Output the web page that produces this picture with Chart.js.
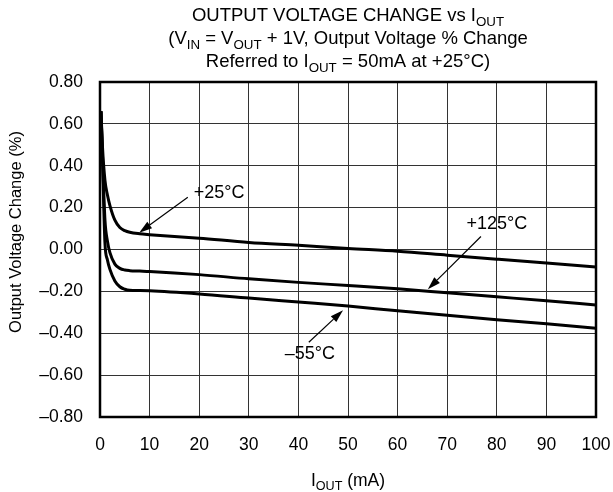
<!DOCTYPE html>
<html>
<head>
<meta charset="utf-8">
<script src="https://cdn.jsdelivr.net/npm/chart.js@4.4.0/dist/chart.umd.min.js"></script>
<style>
    html, body { margin: 0; padding: 0; background: #fff; }
    canvas { display: block; }
</style>
</head>
<body>
<canvas id="voltageChart" width="613" height="492"></canvas>
<script>
const currentMa = [0.2, 0.5, 1, 1.5, 2, 3, 4, 5, 6, 8, 10, 20, 30, 40, 50, 60, 70, 80, 90, 100];

// Output voltage % change for each temperature
const changeAt25C = [0.66, 0.49, 0.33, 0.26, 0.21, 0.14, 0.105, 0.09, 0.082, 0.075, 0.071, 0.054, 0.034, 0.02, 0.005, -0.008, -0.027, -0.046, -0.065, -0.084];
const changeAt125C = [0.66, 0.45, 0.14, 0.04, -0.015, -0.07, -0.09, -0.098, -0.101, -0.103, -0.105, -0.12, -0.14, -0.157, -0.172, -0.188, -0.207, -0.226, -0.245, -0.265];
const changeAtMinus55C = [0.66, 0.43, 0.03, -0.05, -0.095, -0.15, -0.178, -0.19, -0.195, -0.196, -0.197, -0.212, -0.232, -0.251, -0.27, -0.293, -0.314, -0.335, -0.355, -0.376];

// Tick labels
const xTicks = [0, 10, 20, 30, 40, 50, 60, 70, 80, 90, 100];
const yTicks = [-0.8, -0.6, -0.4, -0.2, 0, 0.2, 0.4, 0.6, 0.8];

// Text (_{...} marks a subscript)
const titleLines = [
    'OUTPUT VOLTAGE CHANGE vs I_{OUT}',
    '(V_{IN} = V_{OUT} + 1V, Output Voltage % Change',
    'Referred to I_{OUT} = 50mA at +25°C)'
];
const xTitle = 'I_{OUT} (mA)';
const yTitle = 'Output Voltage Change (%)';

// Curve labels with arrows, in data units
const curveLabels = [
    { text: '+25°C', x: 24, y: 0.27, fromX: 17.7, fromY: 0.25, toX: 7.9, toY: 0.08 },
    { text: '+125°C', x: 80, y: 0.12, fromX: 76.8, fromY: 0.062, toX: 66.1, toY: -0.19 },
    { text: '–55°C', x: 42.3, y: -0.5, fromX: 42.1, fromY: -0.443, toX: 49, toY: -0.29 }
];

const FONT = '"Liberation Sans", Arial, Helvetica, sans-serif';

function toPoints(ys) {
    return currentMa.map((x, i) => ({ x: x, y: ys[i] }));
}

function formatNumber(v) {
    return v.toFixed(2).replace('-', '–');
}

// Draw a string that may contain _{sub} parts, centred at cx
function drawRich(ctx, str, cx, baseline, size) {
    const parts = str.split(/(_\{[^}]*\})/).filter(p => p.length);
    const subSize = size * 0.72;
    const items = parts.map(p => {
        const sub = p.startsWith('_{');
        const t = sub ? p.slice(2, -1) : p;
        ctx.font = (sub ? subSize : size) + 'px ' + FONT;
        return { t: t, sub: sub, w: ctx.measureText(t).width };
    });
    const total = items.reduce((s, it) => s + it.w, 0);
    let x = cx - total / 2;
    ctx.textAlign = 'left';
    ctx.textBaseline = 'alphabetic';
    items.forEach(it => {
        ctx.font = (it.sub ? subSize : size) + 'px ' + FONT;
        ctx.fillText(it.t, x, baseline + (it.sub ? size * 0.25 : 0));
        x += it.w;
    });
}

const decorations = {
    id: 'decorations',
    beforeDatasetsDraw(chart) {
        // thick frame round the plot
        const a = chart.chartArea;
        const ctx = chart.ctx;
        ctx.save();
        ctx.strokeStyle = '#000';
        ctx.lineWidth = 2.5;
        ctx.strokeRect(a.left, a.top, a.right - a.left, a.bottom - a.top);
        ctx.restore();
    },
    afterDraw(chart) {
        const ctx = chart.ctx;
        const a = chart.chartArea;
        const xs = chart.scales.x;
        const ys = chart.scales.y;
        const cx = (a.left + a.right) / 2;
        ctx.save();
        ctx.fillStyle = '#000';

        // title
        titleLines.forEach((line, i) => {
            drawRich(ctx, line, cx, 21 + i * 23, 18.5);
        });

        // axis titles
        drawRich(ctx, xTitle, cx, 486, 17.5);
        ctx.save();
        ctx.translate(21, 232);
        ctx.rotate(-Math.PI / 2);
        drawRich(ctx, yTitle, 0, 0, 16.5);
        ctx.restore();

        // curve labels and arrows
        curveLabels.forEach(l => {
            ctx.font = '18px ' + FONT;
            ctx.textAlign = 'center';
            ctx.textBaseline = 'middle';
            ctx.fillText(l.text, xs.getPixelForValue(l.x), ys.getPixelForValue(l.y));

            const x1 = xs.getPixelForValue(l.fromX), y1 = ys.getPixelForValue(l.fromY);
            const x2 = xs.getPixelForValue(l.toX), y2 = ys.getPixelForValue(l.toY);
            const ang = Math.atan2(y2 - y1, x2 - x1);
            const headLen = 13, headW = 4;
            const bx = x2 - headLen * Math.cos(ang), by = y2 - headLen * Math.sin(ang);
            ctx.strokeStyle = '#000';
            ctx.lineWidth = 1.2;
            ctx.beginPath();
            ctx.moveTo(x1, y1);
            ctx.lineTo(bx, by);
            ctx.stroke();
            ctx.beginPath();
            ctx.moveTo(x2, y2);
            ctx.lineTo(bx + headW * Math.sin(ang), by - headW * Math.cos(ang));
            ctx.lineTo(bx - headW * Math.sin(ang), by + headW * Math.cos(ang));
            ctx.closePath();
            ctx.fill();
        });
        ctx.restore();
    }
};

const curveStyle = {
    borderColor: '#000',
    borderWidth: 3,
    pointRadius: 0,
    fill: false,
    cubicInterpolationMode: 'monotone'
};

new Chart(document.getElementById('voltageChart').getContext('2d'), {
    type: 'line',
    data: {
        datasets: [
            Object.assign({ label: '+25°C', data: toPoints(changeAt25C) }, curveStyle),
            Object.assign({ label: '+125°C', data: toPoints(changeAt125C) }, curveStyle),
            Object.assign({ label: '–55°C', data: toPoints(changeAtMinus55C) }, curveStyle)
        ]
    },
    options: {
        responsive: false,
        animation: false,
        devicePixelRatio: 1,
        layout: { padding: { top: 82, right: 17, left: 0, bottom: 0 } },
        plugins: {
            legend: { display: false },
            tooltip: { enabled: false }
        },
        scales: {
            x: {
                type: 'linear',
                min: 0,
                max: 100,
                afterBuildTicks: scale => { scale.ticks = xTicks.map(v => ({ value: v })); },
                afterFit: scale => {
                    scale.height = 75;
                    scale.paddingLeft = 0;
                    scale.paddingRight = 0;
                },
                ticks: {
                    color: '#000',
                    padding: 18,
                    font: { family: FONT, size: 17.5 },
                    callback: v => String(v)
                },
                grid: { color: '#333', lineWidth: 1, drawTicks: false },
                border: { display: false }
            },
            y: {
                min: -0.8,
                max: 0.8,
                afterBuildTicks: scale => { scale.ticks = yTicks.map(v => ({ value: v })); },
                afterFit: scale => {
                    scale.width = 100;
                    scale.paddingTop = 0;
                    scale.paddingBottom = 0;
                },
                ticks: {
                    color: '#000',
                    padding: 17,
                    font: { family: FONT, size: 17.5 },
                    callback: v => formatNumber(v)
                },
                grid: { color: '#333', lineWidth: 1, drawTicks: false },
                border: { display: false }
            }
        }
    },
    plugins: [decorations]
});
</script>
</body>
</html>
